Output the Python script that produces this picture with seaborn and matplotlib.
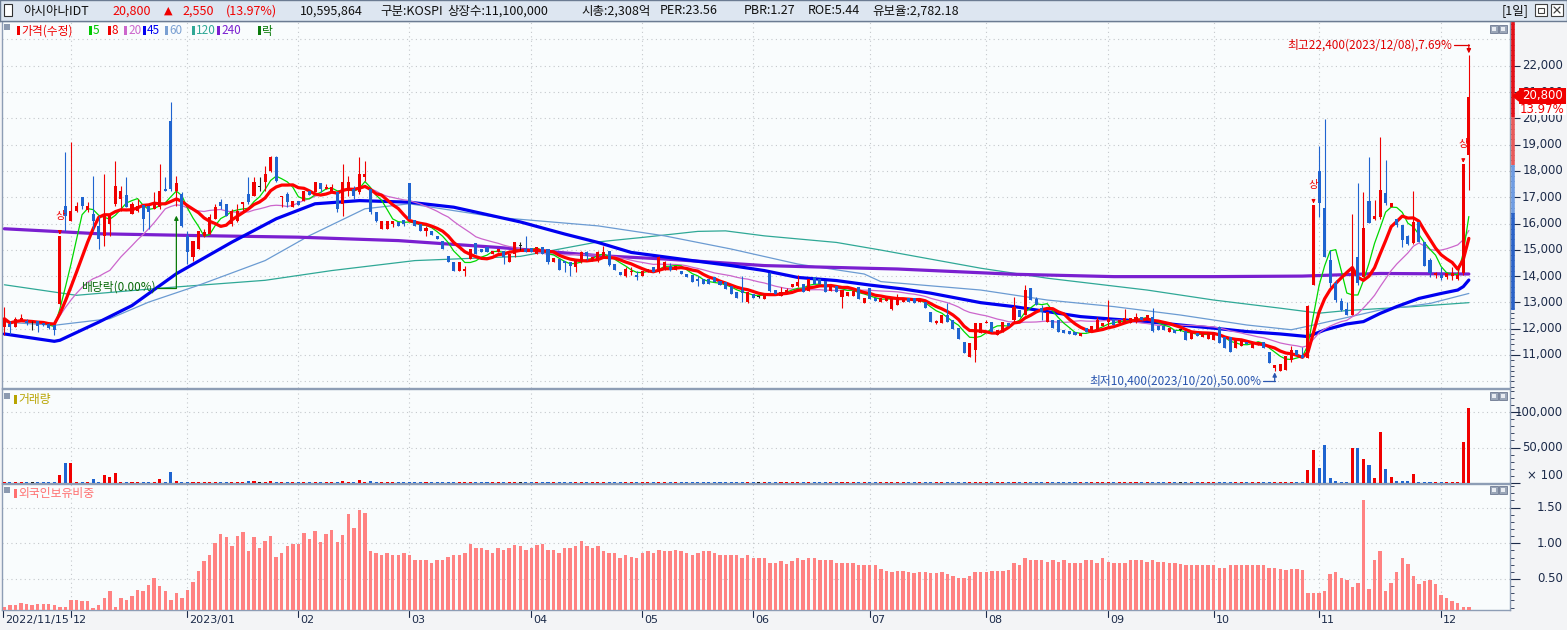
import numpy as np
import pandas as pd
import matplotlib
matplotlib.use("Agg")
import matplotlib.pyplot as plt
import matplotlib.transforms as mtransforms
from matplotlib.patches import Rectangle, Polygon
from matplotlib.lines import Line2D
from matplotlib.ticker import MultipleLocator
import seaborn as sns

# daily candles, 2022/11/15 .. 2023/12/08 (trading days)
open_px = [
    12060, 12190, 12060, 12340, 12280, 12200, 12290, 12200, 12190, 12125,
    12950, 16680, 16110, 16490, 17000, 16530, 16370, 15920, 15540, 15990,
    16750, 16940, 17090, 16370, 16490, 16710, 16680, 16560, 16620, 17320,
    19910, 17250, 17130, 15540, 14720, 15040, 15540, 15610, 16180, 16810,
    16750, 15990, 16110, 16750, 17130, 17060, 17400, 17570, 18010, 18520,
    17000, 17130, 16620, 16870, 16870, 17220, 17190, 17530, 17320, 17250,
    17190, 16750, 17250, 17320, 17190, 17760, 17320, 16450, 15800, 15800,
    15990, 16050, 16140, 17540, 16150, 15990, 15730, 15700, 15540, 15350,
    14780, 14530, 14210, 14210, 14660, 15270, 15040, 15100, 14850, 14910,
    14970, 14550, 14840, 15150, 15030, 15050, 14840, 15110, 15030, 14550,
    14650, 14560, 14520, 14330, 14550, 14900, 14590, 14590, 14750, 14960,
    14460, 14170, 14020, 14140, 14040, 13990, 14170, 14330, 14140, 14270,
    14400, 14250, 14200, 14080, 14040, 13890, 13890, 13890, 13950, 13830,
    13760, 13640, 13410, 13490, 13000, 13320, 13200, 13130, 14120, 13490,
    13260, 13390, 13580, 13610, 13700, 13450, 13980, 13890, 13830, 13450,
    13610, 13200, 13260, 13260, 13580, 12970, 13540, 13170, 13000, 13060,
    12740, 12900, 13030, 13160, 13160, 13030, 13030, 12650, 12210, 12210,
    12520, 12330, 12020, 11510, 10940, 11190, 11830, 12210, 12270, 11760,
    11890, 12210, 12330, 12710, 12520, 13540, 13120, 12780, 12270, 12330,
    12330, 11950, 11930, 11890, 11720, 12020, 11950, 11950, 12100, 12270,
    12360, 12230, 12230, 12230, 12270, 12430, 12400, 12430, 12100, 12100,
    11890, 11950, 11950, 11930, 11600, 11830, 11700, 11600, 11570, 12080,
    11700, 11700, 11260, 11340, 11510, 11260, 11380, 11510, 11130, 10500,
    10410, 10430, 10810, 11190, 11000, 10880, 13650, 18010, 16580, 14610,
    13730, 13050, 12740, 12520, 14740, 13980, 16860, 16170, 16230, 17150,
    16610, 16160, 15940, 15520, 15250, 16070, 15310, 14610, 14040, 14040,
    13980, 14000, 13900, 14100, 18600,
]
high_px = [
    12820, 12280, 12440, 12570, 12380, 12300, 12290, 12230, 12200, 12150,
    15520, 18710, 19110, 16810, 17000, 16810, 17820, 16300, 17890, 16370,
    18390, 17440, 17760, 16810, 16940, 16710, 16680, 17190, 18270, 17760,
    20630, 17800, 17190, 15730, 15350, 15730, 15800, 16370, 16750, 16940,
    16750, 16560, 16750, 16810, 17760, 17760, 17760, 18200, 18580, 18580,
    17060, 17190, 16870, 16870, 17250, 17220, 17570, 17530, 17510, 17510,
    17190, 18270, 17800, 17440, 18520, 18390, 17320, 16450, 16110, 16110,
    16110, 16050, 16140, 17540, 16150, 15990, 15920, 15700, 15540, 15350,
    14780, 14530, 14530, 14400, 15040, 15270, 15040, 15100, 14970, 15040,
    14970, 14840, 15300, 15280, 15530, 15050, 15090, 15110, 15030, 14690,
    14650, 14580, 14520, 14610, 14960, 14960, 14710, 14960, 15150, 14960,
    14460, 14170, 14330, 14330, 14200, 14200, 14270, 14330, 14750, 14580,
    14480, 14400, 14200, 14080, 14040, 13990, 13890, 13890, 13950, 13830,
    13760, 13640, 13410, 13990, 13390, 13320, 13260, 13320, 14150, 13490,
    13570, 13550, 13700, 14040, 13700, 13890, 13980, 13890, 13830, 13610,
    13610, 13490, 13390, 13450, 13580, 13150, 13540, 13170, 13160, 13160,
    13160, 13320, 13100, 13160, 13160, 13100, 13030, 12650, 12330, 12520,
    12970, 12330, 12020, 11510, 11450, 12210, 12210, 12330, 12270, 11950,
    12270, 12210, 13220, 12710, 13660, 13540, 13220, 12900, 12650, 12330,
    12330, 11950, 11930, 11890, 11830, 12020, 12100, 12460, 12210, 13090,
    12360, 12330, 12740, 12400, 12590, 12430, 12520, 12780, 12100, 12100,
    12020, 11950, 11990, 11930, 11850, 11830, 11850, 11890, 11890, 12100,
    11700, 11700, 11570, 11570, 11510, 11450, 11510, 11510, 11130, 10620,
    10660, 10970, 11350, 11190, 11320, 12900, 16700, 18950, 19960, 14990,
    13850, 13150, 13030, 16360, 17550, 17210, 18540, 16890, 19280, 18410,
    16770, 16160, 15940, 15560, 17250, 16070, 15310, 14680, 14170, 14360,
    14110, 14360, 14300, 18250, 22400,
]
low_px = [
    11750, 11810, 12060, 12320, 12150, 11950, 11870, 12120, 11990, 11750,
    12900, 15730, 16110, 16450, 16550, 16450, 15800, 15040, 15160, 15540,
    16680, 16490, 16620, 16370, 16430, 15730, 15800, 16560, 16560, 17250,
    17250, 16680, 15860, 14470, 14590, 15040, 15480, 15610, 16180, 16560,
    16300, 15920, 16050, 16490, 16750, 17060, 17250, 17250, 17950, 17570,
    16620, 16620, 16620, 16710, 16870, 17090, 17190, 17190, 17320, 17250,
    16430, 16300, 17060, 16940, 17130, 17630, 16370, 16050, 15800, 15800,
    15860, 15900, 15920, 16180, 15920, 15730, 15540, 15570, 15420, 15040,
    14530, 14180, 14210, 14020, 14660, 14850, 14910, 14910, 14850, 14910,
    14460, 14550, 14710, 15000, 14900, 14900, 14840, 14840, 14460, 14550,
    14250, 14140, 14020, 14150, 14500, 14620, 14590, 14520, 14710, 14400,
    14250, 14040, 13960, 14040, 13860, 13990, 14170, 14140, 14120, 14240,
    14200, 14250, 14080, 13950, 13790, 13640, 13700, 13700, 13760, 13660,
    13510, 13320, 13160, 13030, 12970, 13160, 13160, 13130, 13400, 13320,
    13240, 13350, 13580, 13580, 13390, 13450, 13700, 13700, 13390, 13450,
    13390, 12780, 13260, 13260, 13130, 12970, 13130, 13040, 13000, 13060,
    12700, 12900, 13030, 13030, 12970, 13030, 12780, 12270, 12180, 12210,
    12270, 11980, 11600, 11070, 10940, 10750, 11830, 12210, 11890, 11760,
    11890, 12100, 12210, 12460, 12520, 13090, 12900, 12330, 12270, 12020,
    11890, 11830, 11800, 11760, 11720, 11890, 11950, 11950, 12100, 12100,
    12140, 12230, 12200, 12230, 12210, 12330, 12400, 11890, 11950, 11950,
    11890, 11830, 11910, 11570, 11600, 11720, 11700, 11600, 11570, 11450,
    11260, 11130, 11260, 11340, 11420, 11260, 11380, 11260, 10710, 10400,
    10410, 10430, 10750, 11000, 10880, 10880, 13650, 16260, 14740, 13600,
    13000, 12660, 12520, 12520, 13660, 13980, 16010, 16130, 16170, 16700,
    16610, 15880, 15120, 15190, 15220, 15310, 14380, 13980, 13920, 13870,
    13900, 13850, 13850, 14040, 17270,
]
close_px = [
    12380, 12060, 12380, 12400, 12230, 12200, 12100, 12150, 12020, 11935,
    15520, 16300, 16490, 16680, 16680, 16680, 16110, 15420, 16300, 16300,
    17440, 17250, 16620, 16750, 16680, 16180, 16450, 16810, 17250, 17250,
    17320, 17540, 15920, 14910, 15350, 15730, 15670, 16240, 16620, 16680,
    16300, 16490, 16490, 16810, 16810, 17570, 17400, 17890, 18520, 17630,
    17060, 16810, 16870, 16710, 17220, 17090, 17570, 17320, 17380, 17380,
    16560, 17570, 17570, 17060, 17890, 17890, 16430, 16110, 16110, 16110,
    16110, 15900, 15990, 16180, 15920, 15730, 15820, 15570, 15420, 15040,
    14530, 14210, 14530, 14280, 15040, 14850, 14910, 14910, 14970, 15040,
    14710, 14840, 15280, 15150, 14900, 14900, 15090, 14840, 14520, 14690,
    14250, 14500, 14370, 14610, 14930, 14750, 14710, 14900, 14930, 14420,
    14250, 14040, 14270, 14200, 13950, 14200, 14270, 14140, 14710, 14520,
    14250, 14400, 14080, 13950, 13790, 13830, 13700, 13700, 13760, 13660,
    13510, 13320, 13160, 13360, 13390, 13160, 13200, 13320, 13450, 13320,
    13390, 13490, 13700, 13770, 13390, 13890, 13700, 13700, 13390, 13610,
    13390, 13490, 13390, 13450, 13130, 13150, 13130, 13040, 13160, 13160,
    13160, 13220, 13090, 13030, 12970, 13090, 12780, 12270, 12290, 12520,
    12270, 11980, 11600, 11070, 11450, 12210, 12210, 12270, 11890, 11950,
    12270, 12100, 12840, 12460, 13470, 13090, 12900, 12650, 12650, 12020,
    11890, 11830, 11800, 11760, 11830, 11890, 12100, 12330, 12210, 12360,
    12140, 12330, 12400, 12400, 12460, 12330, 12520, 11930, 11950, 11950,
    12020, 11830, 11950, 11570, 11850, 11720, 11850, 11890, 11890, 11450,
    11260, 11130, 11570, 11570, 11420, 11450, 11510, 11260, 10710, 10620,
    10660, 10970, 11190, 11000, 10880, 12850, 16700, 16770, 14740, 13730,
    13090, 12710, 12520, 14360, 13730, 15820, 16010, 16300, 17270, 16770,
    16770, 15940, 15370, 15220, 16070, 15310, 14380, 14110, 14110, 13920,
    14110, 14130, 14040, 18250, 20800,
]
# volume in units of 100 shares
volume = [
    1200, 1200, 1200, 1200, 1200, 1100, 1200, 1200, 1200, 1200,
    11000, 27500, 27500, 1200, 1200, 1200, 5500, 1200, 11000, 8300,
    13800, 1200, 1200, 1200, 1200, 1200, 1200, 1200, 5500, 1200,
    15100, 2800, 1200, 1200, 1200, 1200, 1200, 1200, 1200, 1200,
    1200, 1200, 1200, 1200, 2300, 2300, 1100, 1200, 2300, 1200,
    1200, 1200, 1200, 1200, 1200, 1200, 1200, 1200, 1200, 1200,
    1200, 2300, 1200, 1200, 4100, 1200, 2300, 1200, 1200, 1200,
    1200, 1200, 1200, 1800, 1200, 1200, 1200, 1200, 1200, 1200,
    1200, 1200, 1200, 1200, 1200, 1200, 1200, 1200, 1200, 1200,
    1200, 1200, 1200, 1100, 1200, 1200, 1200, 1200, 1200, 1200,
    1200, 1200, 1200, 1200, 1200, 1200, 1200, 1200, 1200, 1200,
    1200, 1200, 1200, 1200, 1200, 1200, 1200, 1200, 1200, 1200,
    1200, 1200, 1200, 1200, 1200, 1200, 1200, 1200, 1200, 1200,
    1200, 1200, 1200, 1200, 1200, 1200, 1100, 1200, 1200, 1200,
    1200, 1200, 1200, 1200, 1200, 1200, 1200, 1200, 1200, 1200,
    1200, 1200, 1200, 1200, 1200, 1200, 1200, 1200, 1200, 1200,
    1200, 1200, 1200, 1200, 1200, 1200, 1200, 1200, 1200, 1200,
    1200, 1200, 1200, 1200, 1200, 1200, 1200, 1200, 1200, 1200,
    1200, 1200, 1200, 1200, 1200, 1200, 1200, 1200, 1200, 1200,
    1200, 1200, 1200, 1200, 1200, 1200, 1200, 1200, 1200, 1200,
    1200, 1200, 1200, 1200, 1200, 1200, 1200, 1200, 1200, 1200,
    1200, 1200, 1100, 1200, 1200, 1200, 1200, 1200, 1200, 1200,
    1200, 1200, 1200, 1200, 1200, 1200, 1200, 1200, 1200, 1200,
    1500, 1500, 1900, 1900, 1900, 18600, 47100, 21400, 52900, 7100,
    3300, 1900, 1900, 50000, 50000, 34300, 25700, 7100, 71400, 20000,
    8600, 3300, 3300, 3300, 12900, 1900, 1900, 1900, 1900, 1900,
    1900, 1900, 1900, 57100, 105959,
]
# foreign ownership ratio (%)
foreign_pct = [
    0.11, 0.13, 0.13, 0.17, 0.15, 0.14, 0.15, 0.15, 0.15, 0.14,
    0.11, 0.11, 0.21, 0.21, 0.19, 0.19, 0.09, 0.13, 0.23, 0.33,
    0.11, 0.23, 0.20, 0.26, 0.35, 0.33, 0.41, 0.51, 0.40, 0.33,
    0.20, 0.30, 0.23, 0.35, 0.46, 0.61, 0.75, 0.83, 1.01, 1.13,
    1.09, 0.96, 1.10, 1.16, 0.89, 1.09, 0.93, 1.03, 1.10, 0.81,
    0.86, 0.96, 0.99, 0.99, 1.14, 1.06, 1.17, 1.02, 1.13, 1.19,
    1.02, 1.11, 1.41, 1.21, 1.46, 1.43, 0.89, 0.86, 0.83, 0.87,
    0.83, 0.83, 0.87, 0.83, 0.77, 0.76, 0.76, 0.73, 0.76, 0.77,
    0.81, 0.83, 0.84, 0.86, 0.99, 0.94, 0.93, 0.90, 0.87, 0.94,
    0.91, 0.93, 0.97, 0.96, 0.91, 0.94, 0.97, 0.99, 0.90, 0.91,
    0.86, 0.93, 0.93, 0.96, 1.03, 0.96, 0.93, 0.96, 0.89, 0.86,
    0.86, 0.80, 0.83, 0.81, 0.80, 0.86, 0.89, 0.87, 0.90, 0.89,
    0.89, 0.90, 0.89, 0.87, 0.84, 0.86, 0.89, 0.89, 0.86, 0.84,
    0.83, 0.83, 0.83, 0.80, 0.83, 0.80, 0.80, 0.80, 0.73, 0.73,
    0.75, 0.71, 0.75, 0.79, 0.76, 0.80, 0.80, 0.76, 0.76, 0.76,
    0.73, 0.73, 0.73, 0.73, 0.70, 0.70, 0.69, 0.69, 0.64, 0.61,
    0.60, 0.61, 0.61, 0.60, 0.59, 0.60, 0.60, 0.59, 0.59, 0.60,
    0.57, 0.54, 0.51, 0.51, 0.54, 0.60, 0.60, 0.60, 0.61, 0.61,
    0.61, 0.63, 0.73, 0.69, 0.80, 0.76, 0.77, 0.76, 0.74, 0.76,
    0.74, 0.76, 0.73, 0.73, 0.73, 0.76, 0.76, 0.73, 0.79, 0.74,
    0.73, 0.73, 0.73, 0.76, 0.76, 0.76, 0.74, 0.76, 0.74, 0.74,
    0.73, 0.73, 0.71, 0.70, 0.70, 0.70, 0.70, 0.70, 0.69, 0.66,
    0.66, 0.70, 0.70, 0.70, 0.70, 0.70, 0.70, 0.70, 0.66, 0.66,
    0.64, 0.63, 0.64, 0.64, 0.63, 0.31, 0.31, 0.30, 0.33, 0.57,
    0.60, 0.51, 0.49, 0.39, 0.44, 1.60, 0.36, 0.77, 0.89, 0.33,
    0.44, 0.60, 0.80, 0.71, 0.54, 0.43, 0.47, 0.49, 0.43, 0.27,
    0.24, 0.19, 0.17, 0.11, 0.11,
]

# long moving averages (day index, value)
ma45_day = [0, 9, 10, 17, 23, 31, 41, 49, 56, 64, 73, 81, 93, 101, 107, 113, 124, 131, 137,
            143, 150, 156, 162, 167, 176, 182, 188, 194, 200, 206, 212, 218, 224, 230, 235,
            238, 242, 245, 248, 251, 255, 259, 262, 263, 264]
ma45_val = [11800, 11520, 11560, 12250, 12880, 14090, 15290, 16180, 16750, 16870, 16810, 16620,
            16060, 15600, 15280, 14900, 14590, 14400, 14210, 13950, 13830, 13660, 13510, 13350,
            12990, 12840, 12650, 12460, 12360, 12270, 12140, 12020, 11890, 11800, 11700, 11950,
            12180, 12270, 12580, 12840, 13150, 13340, 13470, 13600, 13850]
ma60_day = [0, 9, 19, 26, 35, 47, 55, 65, 73, 89, 107, 119, 131, 143, 155, 158, 176, 188, 200,
            212, 224, 232, 236, 248, 257, 264]
ma60_val = [12250, 12130, 12380, 13010, 13650, 14590, 15540, 16560, 16750, 16230, 15910, 15530,
            15030, 14460, 14080, 13790, 13470, 13090, 12840, 12520, 12140, 11960, 12140, 12710,
            12960, 13340]
ma120_day = [0, 13, 28, 47, 59, 74, 93, 107, 115, 125, 130, 137, 150, 158, 176, 188, 206, 218,
             230, 237, 242, 254, 264]
ma120_val = [13670, 13270, 13540, 13840, 14210, 14590, 14750, 15300, 15470, 15700, 15720, 15530,
             15280, 14990, 14300, 13920, 13470, 13090, 12780, 12590, 12690, 12840, 12990]
ma240_day = [0, 17, 35, 53, 71, 89, 107, 119, 137, 155, 161, 182, 200, 218, 234, 248, 264]
ma240_val = [15800, 15610, 15540, 15480, 15350, 15090, 14780, 14650, 14400, 14300, 14270, 14070,
             13980, 13980, 14000, 14100, 14080]

month_day = [0, 12, 33, 53, 73, 95, 115, 135, 156, 177, 199, 218, 237, 259]
month_lbl = ["2022/11/15", "12", "2023/01", "02", "03", "04", "05", "06",
             "07", "08", "09", "10", "11", "12"]
limit_up_day = [10, 236, 263]
price_ticks = [11000, 12000, 13000, 14000, 15000, 16000, 17000, 18000, 19000, 20000, 21000, 22000]

sns.set_theme(style="white")
plt.rcParams["font.family"] = ["Noto Sans CJK KR", "DejaVu Sans"]
plt.rcParams["axes.unicode_minus"] = False

W, H = 1567, 630
fig = plt.figure(figsize=(W / 100, H / 100), dpi=100, facecolor="#f3f4f6")

RED = "#f00000"
BLUE = "#1f64d0"
BLACK = "#202020"
BG = "#f9fcfd"
GRID = "#c4c8cc"
BORDER = "#8d9db5"
AXC = "#1c2b4a"
XL = (-0.433, 271.42)


def px_axes(x0, y0, x1, y1):
    a = fig.add_axes([x0 / W, 1 - y1 / H, (x1 - x0) / W, (y1 - y0) / H])
    a.set_facecolor(BG)
    for s in a.spines.values():
        s.set_color(BORDER)
        s.set_linewidth(1)
    a.set_xlim(*XL)
    a.set_xticks([])
    return a


def ftext(x, y, s, **kw):
    return fig.text(x / W, 1 - y / H, s, **kw)


def frect(x0, y0, x1, y1, **kw):
    fig.add_artist(Rectangle((x0 / W, 1 - y1 / H), (x1 - x0) / W, (y1 - y0) / H,
                             transform=fig.transFigure, **kw))


def fline(xs, ys, **kw):
    fig.add_artist(Line2D([x / W for x in xs], [1 - y / H for y in ys],
                          transform=fig.transFigure, **kw))


def month_grid(a):
    for m in month_day[1:]:
        a.axvline(m, color=GRID, lw=0.8, ls=(0, (1, 3)), zorder=0)


def right_labels(a, vals, texts, fs=8.5):
    tr = mtransforms.blended_transform_factory(fig.transFigure, a.transData)
    for v, t in zip(vals, texts):
        a.text(1563 / W, v, t, transform=tr, ha="right", va="center",
               fontsize=fs, color=AXC, family="DejaVu Sans")


def panel_icons(y):
    for x0 in (1490, 1499):
        frect(x0, y, x0 + 8, y + 8, facecolor="#9aa6b8", edgecolor="#6c7890", lw=0.6, zorder=10)
        frect(x0 + 2, y + 2, x0 + 6, y + 6, facecolor="#e8ecf2", lw=0, zorder=11)


n = len(close_px)
day = np.arange(n)
o = np.array(open_px, float)
c = np.array(close_px, float)
candle_col = [RED if cc > oo else BLUE if cc < oo else BLACK for oo, cc in zip(o, c)]

# ---------------- price panel ----------------
ax = px_axes(2, 21, 1510, 388)
ax.set_ylim(9745, 23700)
for p in range(10000, 24000, 1000):
    ax.axhline(p, color=GRID, lw=0.8, ls=(0, (1, 3)), zorder=0)
month_grid(ax)

cs = pd.Series(c)
ma5 = cs.rolling(5, min_periods=1).mean()
ma8 = cs.rolling(8, min_periods=1).mean()
ma20 = cs.rolling(20, min_periods=1).mean()

sns.lineplot(x=ma120_day, y=ma120_val, ax=ax, color="#2fa896", lw=0.9, zorder=2)
sns.lineplot(x=ma60_day, y=ma60_val, ax=ax, color="#6b9bd2", lw=0.9, zorder=2)
sns.lineplot(x=ma240_day, y=ma240_val, ax=ax, color="#7a1fd0", lw=2.3, zorder=3)
sns.lineplot(x=ma45_day, y=ma45_val, ax=ax, color="#0000f0", lw=2.3, zorder=3)
sns.lineplot(x=day, y=ma20, ax=ax, color="#cc66cc", lw=0.9, zorder=3)
sns.lineplot(x=day, y=ma5, ax=ax, color="#00d800", lw=0.9, zorder=4)
sns.lineplot(x=day, y=ma8, ax=ax, color="#ff0000", lw=2.3, zorder=4)

ax.vlines(day, low_px, high_px, colors=candle_col, lw=0.8, zorder=5)
body_lo = np.minimum(o, c)
body_h = np.maximum(np.abs(c - o), 35)
ax.bar(day, body_h, bottom=body_lo, width=0.55, color=candle_col, lw=0, zorder=6)

# right price axis
ax.yaxis.set_ticks_position("right")
ax.set_yticks(price_ticks)
ax.yaxis.set_minor_locator(MultipleLocator(200))
ax.tick_params(axis="y", which="major", right=True, left=False, labelright=False,
               labelleft=False, length=7, width=0.8, color=AXC, direction="out")
ax.tick_params(axis="y", which="minor", right=True, left=False, length=3, width=0.6,
               color=AXC, direction="out")
ax.set_ylabel("")
ax.set_xlabel("")
right_labels(ax, price_ticks, [f"{p:,}" for p in price_ticks])

# range bar on the price scale
tr = mtransforms.blended_transform_factory(fig.transFigure, ax.transData)
for p0, p1, col in [(20060, 23700, "#e41018"), (18223, 20060, "#e85a5a"),
                    (16386, 18223, "#6f9ce2"), (12711, 16386, "#2a62c8")]:
    ax.plot([1512.5 / W] * 2, [p0, p1], transform=tr, color=col, lw=2.6,
            solid_capstyle="butt", clip_on=False, zorder=8)

# limit-up markers
for d in limit_up_day:
    ax.annotate("상", xy=(d, high_px[d] + 60), xytext=(0, 19), textcoords="offset pixels",
                ha="center", va="center", fontsize=7.5, color=RED, zorder=9,
                arrowprops=dict(arrowstyle="-|>", color=RED, lw=0.8, mutation_scale=5,
                                shrinkA=6, shrinkB=0))

# ex-dividend mark
ax.plot([27.5, 31], [13540, 13540], color="#0a7a0a", lw=0.9, zorder=7)
ax.annotate("", xy=(31, 16300), xytext=(31, 13540),
            arrowprops=dict(arrowstyle="-|>", color="#0a7a0a", lw=0.9, mutation_scale=6,
                            shrinkA=0, shrinkB=0), zorder=7)
ax.text(27.3, 13580, "배당락(0.00%)", ha="right", va="center", fontsize=8.5,
        color="#0a6a0a", zorder=9)

# high / low labels
ax.text(261.0, 22787, "최고22,400(2023/12/08),7.69%", ha="right", va="center",
        fontsize=8.5, color="#e00000", zorder=9)
ax.plot([261.3, 264], [22787, 22787], color="#e00000", lw=0.9, zorder=9)
ax.annotate("", xy=(264, 22470), xytext=(264, 22800),
            arrowprops=dict(arrowstyle="-|>", color="#e00000", lw=0.9, mutation_scale=6,
                            shrinkA=0, shrinkB=0), zorder=9)
ax.text(226.6, 10000, "최저10,400(2023/10/20),50.00%", ha="right", va="center",
        fontsize=8.5, color="#2a56b0", zorder=9)
ax.plot([226.9, 229], [10000, 10000], color="#2a56b0", lw=0.9, zorder=9)
ax.annotate("", xy=(229, 10340), xytext=(229, 9990),
            arrowprops=dict(arrowstyle="-|>", color="#2a56b0", lw=0.9, mutation_scale=6,
                            shrinkA=0, shrinkB=0), zorder=9)

# ---------------- volume panel ----------------
axv = px_axes(2, 389, 1510, 483)
axv.set_ylim(0, 132400)
for v in (50000, 100000):
    axv.axhline(v, color=GRID, lw=0.8, ls=(0, (1, 3)), zorder=0)
month_grid(axv)
axv.bar(day, volume, width=0.55, color=candle_col, lw=0, zorder=3)
axv.yaxis.set_ticks_position("right")
axv.set_yticks([0, 50000, 100000])
axv.yaxis.set_minor_locator(MultipleLocator(10000))
axv.tick_params(axis="y", which="major", right=True, labelright=False, labelleft=False,
                length=7, width=0.8, color=AXC, direction="out")
axv.tick_params(axis="y", which="minor", right=True, length=3, width=0.6, color=AXC,
                direction="out")
right_labels(axv, [100000, 50000, 10500], ["100,000", "50,000", "× 100"])

# ---------------- foreign ownership panel ----------------
axf = px_axes(2, 484, 1510, 610)
axf.set_ylim(0.066, 1.83)
for v in (0.5, 1.0, 1.5):
    axf.axhline(v, color=GRID, lw=0.8, ls=(0, (1, 3)), zorder=0)
month_grid(axf)
axf.bar(day, foreign_pct, width=0.62, color="#ff8282", lw=0, zorder=3)
axf.yaxis.set_ticks_position("right")
axf.set_yticks([0.5, 1.0, 1.5])
axf.yaxis.set_minor_locator(MultipleLocator(0.1))
axf.tick_params(axis="y", which="major", right=True, labelright=False, labelleft=False,
                length=7, width=0.8, color=AXC, direction="out")
axf.tick_params(axis="y", which="minor", right=True, length=3, width=0.6, color=AXC,
                direction="out")
right_labels(axf, [1.5, 1.0, 0.5], ["1.50", "1.00", "0.50"])

# x-axis month labels
for m, lbl in zip(month_day, month_lbl):
    xp = 4.4 + 5.547 * m if m else 3
    fline([xp, xp], [611, 617], color=AXC, lw=0.8)
    ftext(xp + 2, 620, lbl, ha="left", va="center", fontsize=8, color=AXC, family="DejaVu Sans")

# ---------------- header bar ----------------
hdr = fig.add_axes([0, 1 - 21 / H, 1, 21 / H])
hdr.set_facecolor("#dde6f1")
hdr.set_xticks([])
hdr.set_yticks([])
for s in hdr.spines.values():
    s.set_color("#6b7b92")
    s.set_linewidth(1)
frect(4, 4, 12, 16, facecolor="white", edgecolor="#303030", lw=0.8, zorder=10)
hy = 11
HF = 9
ftext(23, hy, "아시아나IDT", va="center", fontsize=HF, color="#101010")
ftext(112, hy, "20,800", va="center", fontsize=HF, color=RED)
ftext(164, hy, "▲", va="center", fontsize=8, color=RED, family="DejaVu Sans")
ftext(182, hy, "2,550", va="center", fontsize=HF, color=RED)
ftext(226, hy, "(13.97%)", va="center", fontsize=HF, color=RED)
ftext(300, hy, "10,595,864", va="center", fontsize=HF, color="#101010")
ftext(380, hy, "구분:KOSPI", va="center", fontsize=HF, color="#101010")
ftext(447, hy, "상장수:11,100,000", va="center", fontsize=HF, color="#101010")
ftext(581, hy, "시총:2,308억", va="center", fontsize=HF, color="#101010")
ftext(660, hy, "PER:23.56", va="center", fontsize=HF, color="#101010")
ftext(744, hy, "PBR:1.27", va="center", fontsize=HF, color="#101010")
ftext(808, hy, "ROE:5.44", va="center", fontsize=HF, color="#101010")
ftext(872, hy, "유보율:2,782.18", va="center", fontsize=HF, color="#101010")
ftext(1502, hy, "[1일]", va="center", fontsize=HF, color="#101010")
for x0 in (1535, 1551):
    frect(x0, 4, x0 + 12, 16, facecolor="white", edgecolor="#404040", lw=0.8, zorder=10)
frect(1538, 8, 1544, 13, facecolor="none", edgecolor="#404040", lw=0.8, zorder=11)
fline([1554, 1560], [7, 13], color="#404040", lw=0.9, zorder=11)
fline([1554, 1560], [13, 7], color="#404040", lw=0.9, zorder=11)


# ---------------- legends ----------------
def legend_item(x, y, col, text, tcol=None):
    frect(x, y - 5, x + 2.5, y + 4, facecolor=col, lw=0, zorder=10)
    ftext(x + 4, y, text, va="center", fontsize=8.5, color=tcol or col, zorder=10)


frect(4, 24, 10, 30, facecolor="#8c9ab0", lw=0, zorder=10)
ly = 31
legend_item(17, ly, RED, "가격(수정)")
legend_item(89, ly, "#00c800", "5")
legend_item(108, ly, RED, "8")
legend_item(124, ly, "#cc66cc", "20")
legend_item(143, ly, "#0000f0", "45")
legend_item(165, ly, "#7aa0d2", "60")
legend_item(192, ly, "#2fa896", "120")
legend_item(217, ly, "#7a1fd0", "240")
legend_item(258, ly, "#0a7a0a", "락")

frect(4, 393, 10, 399, facecolor="#8c9ab0", lw=0, zorder=10)
legend_item(14, 400, "#b8a400", "거래량")
frect(4, 487, 10, 493, facecolor="#8c9ab0", lw=0, zorder=10)
legend_item(14, 494, "#ff7070", "외국인보유비중")

panel_icons(25)
panel_icons(392)
panel_icons(486)

# current price tag on the scale
frect(1519, 88, 1566, 104, facecolor=RED, lw=0, zorder=12)
ftext(1542.5, 96, "20,800", ha="center", va="center", fontsize=8.5, color="white",
      family="DejaVu Sans", zorder=13)
fig.add_artist(Polygon([(1513 / W, 1 - 96 / H), (1519 / W, 1 - 91 / H), (1519 / W, 1 - 101 / H)],
                       closed=True, transform=fig.transFigure, color=RED, zorder=12))
frect(1519, 104, 1566, 115, facecolor="white", lw=0, zorder=12)
ftext(1542.5, 109.5, "13.97%", ha="center", va="center", fontsize=8.5, color=RED,
      family="DejaVu Sans", zorder=13)

fig.savefig("out.png", dpi=100, facecolor=fig.get_facecolor())
